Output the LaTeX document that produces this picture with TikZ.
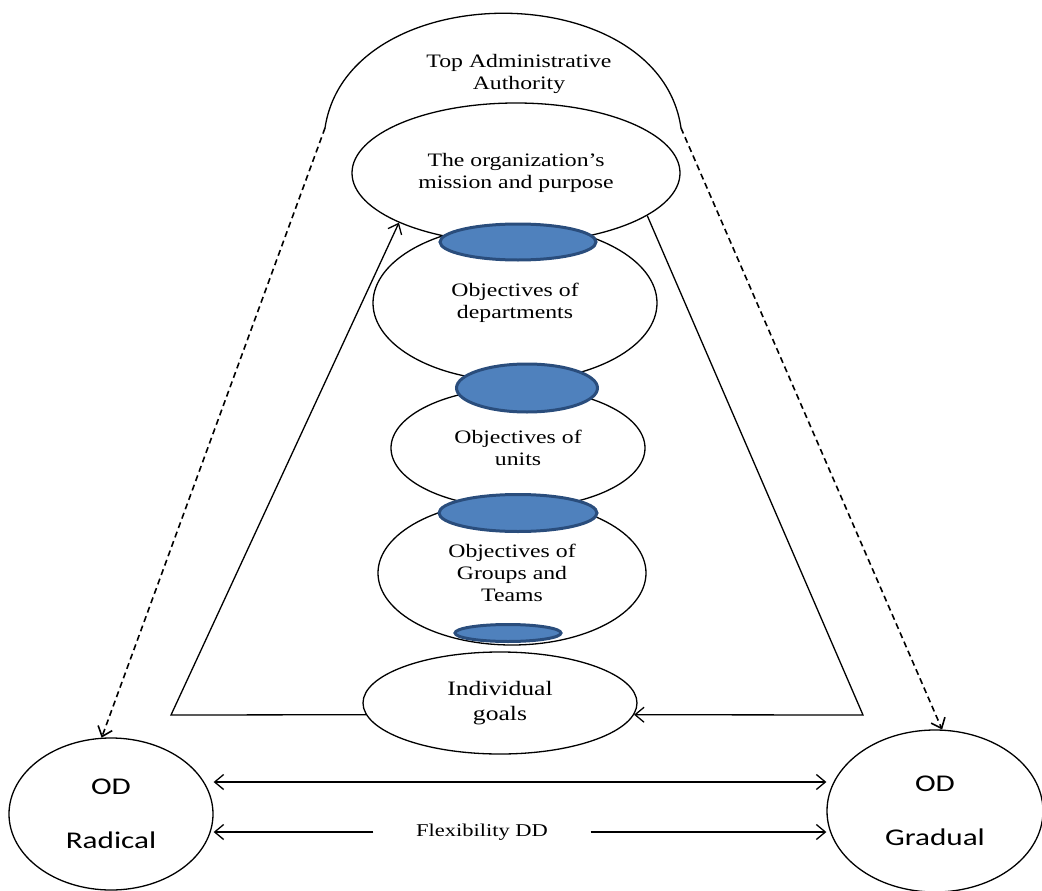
\documentclass[tikz,border=0pt]{standalone}
\usepackage{fontspec}
\setmainfont[FakeStretch=1.25]{Liberation Serif}
\newfontfamily\calib[FakeStretch=1.3]{Carlito}
\usepackage{tikz}
\usetikzlibrary{shapes.geometric, arrows}
\usetikzlibrary{arrows.meta}
\usepackage{xcolor}
\definecolor{blobfill}{HTML}{4F81BD}
\definecolor{blobline}{HTML}{2A4D7C}

\begin{document}
\begin{tikzpicture}[x=1pt, y=-1pt, line width=1.3pt,
		>={Straight Barb[length=9pt, width=15pt]},
		goal/.style={ellipse, draw, inner sep=0pt, align=center, font=\fontsize{19}{22}\selectfont},
		blob/.style={ellipse, draw=blobline, fill=blobfill, line width=3pt, inner sep=0pt},
		od/.style={ellipse, draw, inner sep=0pt, align=center, font=\calib\fontsize{24}{29}\selectfont}]
			\useasboundingbox (0,0) rectangle (1042,891);
			
			% top authority arch
			\coordinate (archL) at (325,128);
			\coordinate (archR) at (681,128);
			\draw (archL) .. controls (348,-25) and (659,-25) .. (archR);
			\node[align=center, font=\fontsize{19}{22}\selectfont] (topauth) at (519,74) {Top Administrative\\Authority};
			
			\node[goal, minimum width=328pt, minimum height=140pt] (mission) at (516,173) {The organization's\\mission and purpose};
			\node[goal, minimum width=284pt, minimum height=156pt] (dept) at (515,303) {Objectives of\\departments};
			\node[goal, minimum width=254pt, minimum height=120pt] (units) at (518,448) {Objectives of\\units};
			\node[goal, minimum width=268pt, minimum height=144pt] (groups) at (512,573) {Objectives of\\Groups and\\Teams};
			\node[goal, minimum width=274pt, minimum height=102pt, font=\fontsize{20.5}{25}\selectfont] (indiv) at (500,703) {Individual\\goals};
			
			\foreach \n/\x/\y/\w/\h in {A/518/242/156/36, B/527/388/141/48, C/518/513/158/37, D/508/633/106/17}
			\node[blob, minimum width=\w pt, minimum height=\h pt] (blob\n) at (\x,\y) {};
			
			\node[od, minimum width=204pt, minimum height=152pt] (radical) at (111,814) {OD\\[25pt]Radical};
			\node[od, minimum width=216pt, minimum height=162pt] (gradual) at (935,811) {OD\\[25pt]Gradual};
			
			% feedback loop
			\coordinate (lcorner) at (171,715);
			\coordinate (rcorner) at (863,715);
			\draw[->] (indiv.185) -- (lcorner) -- (mission.203);
			\draw[->] (mission.342) -- (rcorner) -- (indiv.355);
			
			\draw[->, line width=1.6pt, dash pattern=on 6pt off 4pt] (archL) -- (radical.97);
			\draw[->, line width=1.6pt, dash pattern=on 6pt off 4pt] (archR) -- (gradual.85);
			
			\draw[<->] ([yshift=32pt]radical.east) -- ([yshift=32pt]radical.east -| gradual.west);
			\node[inner xsep=42pt, font=\fontsize{18}{22}\selectfont] (flex) at (482,832) {Flexibility DD};
			\draw[->] (flex.west) -- (flex.west -| radical.east);
			\draw[->] (flex.east) -- (flex.east -| gradual.west);
		\end{tikzpicture}
\end{document}
